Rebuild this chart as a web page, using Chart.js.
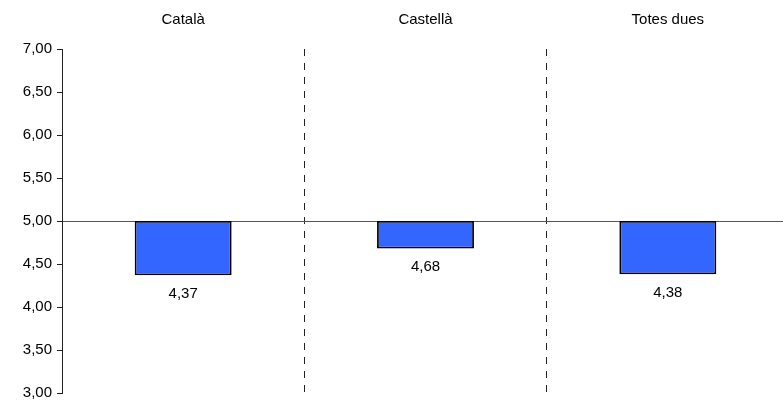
<!DOCTYPE html>
<html>
<head>
<meta charset="utf-8">
<script src="https://cdn.jsdelivr.net/npm/chart.js@4"></script>
<style>
  html, body { margin: 0; padding: 0; background: #fff; overflow: hidden; }
  #wrap { width: 783px; height: 401px; overflow: hidden; }
</style>
</head>
<body>
<div id="wrap"><canvas id="chart" width="789" height="407"></canvas></div>
<script>
// chart data
const categories = ['Català', 'Castellà', 'Totes dues'];
const baseline = 5;
const values = [4.37, 4.68, 4.38];
const yTicks = [3, 3.5, 4, 4.5, 5, 5.5, 6, 6.5, 7];

const FONT = '"Liberation Sans", Arial, sans-serif';

function fmt(v) {
    return v.toFixed(2).replace('.', ',');
}

// value labels under each bar
const valueLabels = {
    id: 'valueLabels',
    afterDatasetsDraw(chart) {
        const ctx = chart.ctx;
        const meta = chart.getDatasetMeta(0);
        ctx.save();
        ctx.font = '15px ' + FONT;
        ctx.fillStyle = '#000';
        ctx.textAlign = 'center';
        ctx.textBaseline = 'top';
        meta.data.forEach((bar, i) => {
            const y = chart.scales.y.getPixelForValue(values[i]);
            ctx.fillText(fmt(values[i]), bar.x, y + 11);
        });
        ctx.restore();
    }
};

new Chart(document.getElementById('chart'), {
    type: 'bar',
    data: {
        labels: categories,
        datasets: [{
            data: values.map(v => [baseline, v]),
            backgroundColor: '#3366FF',
            borderColor: '#000',
            borderWidth: 1.8,
            borderSkipped: false,
            categoryPercentage: 1,
            barPercentage: 0.4
        }]
    },
    options: {
        responsive: false,
        animation: false,
        layout: { padding: 0 },
        plugins: {
            legend: { display: false },
            tooltip: { enabled: false }
        },
        scales: {
            x: {
                position: 'top',
                offset: true,
                afterFit: s => { s.height = 49; },
                border: { display: false, dash: [7, 7] },
                grid: {
                    offset: true,
                    drawTicks: false,
                    color: c => (c.index === 0 || c.index === categories.length) ? 'rgba(0,0,0,0)' : '#222',
                    lineWidth: 1
                },
                ticks: {
                    color: '#000',
                    padding: 20,
                    font: { family: FONT, size: 15 }
                }
            },
            y: {
                min: 3,
                max: 7,
                afterBuildTicks: s => { s.ticks = yTicks.map(v => ({ value: v })); },
                afterFit: s => { s.width = 62; },
                border: { display: true, color: '#222', width: 1 },
                grid: {
                    color: c => (c.tick && c.tick.value === baseline) ? '#555' : 'rgba(0,0,0,0)',
                    tickColor: '#222',
                    tickLength: 5,
                    lineWidth: 1
                },
                ticks: {
                    color: '#000',
                    padding: 5,
                    callback: v => fmt(v),
                    font: { family: FONT, size: 15 }
                }
            }
        }
    },
    plugins: [valueLabels]
});
</script>
</body>
</html>
